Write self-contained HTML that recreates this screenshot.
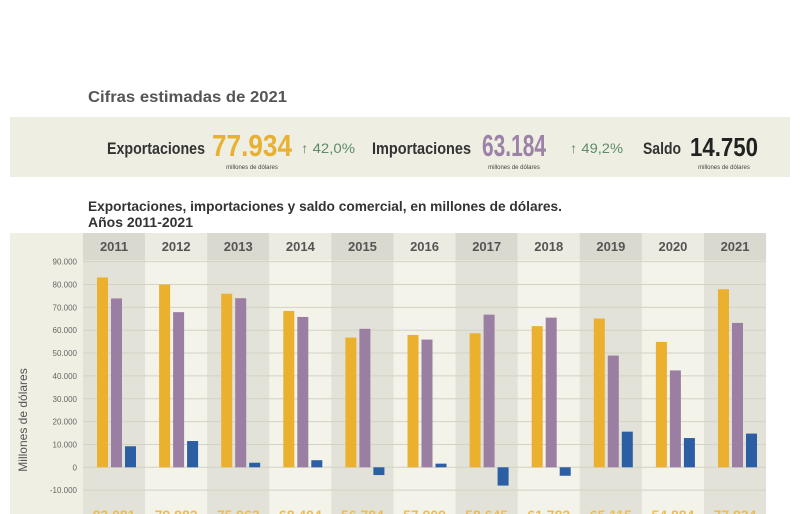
<!DOCTYPE html>
<html><head><meta charset="utf-8"><style>
body{margin:0;width:800px;height:514px;overflow:hidden;background:#fff;font-family:"Liberation Sans",sans-serif;}
svg{display:block}
</style></head><body>
<svg width="800" height="514">
<text x="88" y="102" font-size="16" font-weight="bold" fill="#555" textLength="199" lengthAdjust="spacingAndGlyphs">Cifras estimadas de 2021</text>
<rect x="10" y="117" width="780" height="60" fill="#eeeee2"/>
<g font-weight="bold">
<text x="107" y="154" font-size="17" fill="#333" textLength="98" lengthAdjust="spacingAndGlyphs">Exportaciones</text>
<text x="212" y="156" font-size="31" fill="#e9b132" textLength="80" lengthAdjust="spacingAndGlyphs">77.934</text>
<text x="301" y="153" font-size="14" font-weight="normal" fill="#5d8c6c" textLength="54" lengthAdjust="spacingAndGlyphs">↑ 42,0%</text>
<text x="252" y="169" font-size="6" font-weight="normal" fill="#444" text-anchor="middle">millones de dólares</text>
<text x="372" y="154" font-size="17" fill="#333" textLength="99" lengthAdjust="spacingAndGlyphs">Importaciones</text>
<text x="482" y="156" font-size="31" fill="#9b82a6" textLength="64" lengthAdjust="spacingAndGlyphs">63.184</text>
<text x="570" y="153" font-size="14" font-weight="normal" fill="#5d8c6c" textLength="53" lengthAdjust="spacingAndGlyphs">↑ 49,2%</text>
<text x="514" y="169" font-size="6" font-weight="normal" fill="#444" text-anchor="middle">millones de dólares</text>
<text x="643" y="154" font-size="17" fill="#333" textLength="38" lengthAdjust="spacingAndGlyphs">Saldo</text>
<text x="690" y="156" font-size="26" fill="#222" textLength="68" lengthAdjust="spacingAndGlyphs">14.750</text>
<text x="724" y="169" font-size="6" font-weight="normal" fill="#444" text-anchor="middle">millones de dólares</text>
</g>
<text x="88" y="211" font-size="14" font-weight="bold" fill="#333" textLength="474" lengthAdjust="spacingAndGlyphs">Exportaciones, importaciones y saldo comercial, en millones de dólares.</text>
<text x="88" y="227" font-size="14" font-weight="bold" fill="#333" textLength="105" lengthAdjust="spacingAndGlyphs">Años 2011-2021</text>
<rect x="10" y="233" width="756" height="281" fill="#efefe4"/>
<g id="chart"></g>
<text transform="translate(27,420) rotate(-90)" font-size="12" fill="#555" text-anchor="middle">Millones de dólares</text>
</svg>
<script>
const years=["2011","2012","2013","2014","2015","2016","2017","2018","2019","2020","2021"];
const exportsVals=[83081,79982,75963,68404,56784,57909,58645,61782,65115,54884,77934];
const importsVals=[73900,67900,74000,65800,60600,55900,66800,65500,48900,42400,63184];
const balanceVals=[9200,11500,2000,3100,-3400,1600,-8000,-3700,15600,12800,14750];
const exportLabels=["83.081","79.982","75.963","68.404","56.784","57.909","58.645","61.782","65.115","54.884","77.934"];
const ticks=[90000,80000,70000,60000,50000,40000,30000,20000,10000,0,-10000];
const tickLabels=["90.000","80.000","70.000","60.000","50.000","40.000","30.000","20.000","10.000","0","-10.000"];
const NS="http://www.w3.org/2000/svg";
const g=document.getElementById('chart');
const x0=83,colW=62.1,y0=467.3,pxPer=22.85/10000;
const yS=v=>y0-v*pxPer;
const xS=i=>x0+i*colW;
function mk(t,a){const e=document.createElementNS(NS,t);for(const k in a)e.setAttribute(k,a[k]);g.appendChild(e);return e;}
years.forEach((y,i)=>{
 const c=mk('rect',{x:xS(i),y:233,width:colW,height:281,fill:i%2==0?'#e2e2d8':'#f3f3ea'});
 
 
 const h=mk('rect',{x:xS(i),y:233,width:colW,height:27,fill:i%2==0?'#d9d9cf':'#ebebe1'});
 
 
});
ticks.forEach((t,i)=>{
 const l=mk('line',{x1:x0,x2:766,y1:yS(t),y2:yS(t),stroke:'#d2d2c6','stroke-width':1});
 
 
 const tx=mk('text',{x:77,y:yS(t)+3,'font-size':8,fill:'#666','text-anchor':'end'});
 tx.textContent=tickLabels[i];
 
 
});
const bw=11;
years.forEach((y,i)=>{
 const cx=xS(i)+14;
 const series=[[exportsVals[i],'#eab02e','exports'],[importsVals[i],'#9a7fa3','imports'],[balanceVals[i],'#2b5ea3','balance']];
 series.forEach((s,j)=>{
  const v=s[0];const top=Math.min(yS(v),yS(0));const hh=Math.abs(yS(v)-yS(0));
  const r=mk('rect',{x:cx+j*14,y:top,width:bw,height:hh,fill:s[1]});
  
  
 });
 const t=mk('text',{x:xS(i)+colW/2,y:251,'font-size':13,'font-weight':'bold',fill:'#555','text-anchor':'middle'});
 t.textContent=y;
 
 
 const b=mk('text',{x:xS(i)+colW/2,y:520,'font-size':14,'font-weight':'bold',fill:'#edbd55','text-anchor':'middle'});
 b.textContent=exportLabels[i];
 
 
});
</script>
</body></html>
